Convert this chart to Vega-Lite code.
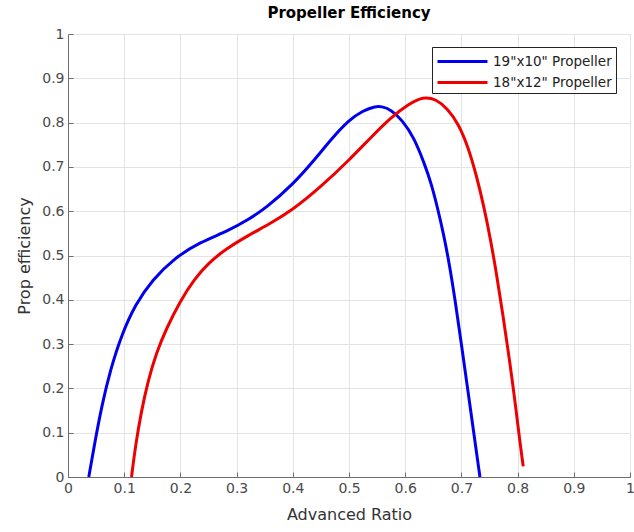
{
  "$schema": "https://vega.github.io/schema/vega-lite/v6.json",
  "width": 562,
  "height": 443,
  "autosize": {"type": "none"},
  "padding": {"left": 68, "top": 34, "right": 4, "bottom": 55},
  "background": "white",
  "title": {
    "text": "Propeller Efficiency",
    "font": "DejaVu Sans",
    "fontSize": 15,
    "fontWeight": "bold",
    "color": "#000000",
    "offset": 6
  },
  "config": {
    "view": {"stroke": "#a8a8a8", "strokeWidth": 1},
    "font": "DejaVu Sans"
  },
  "data": {
    "values": [
      {"series": "19\"x10\" Propeller", "J": 0.037, "eff": 0.0},
      {"series": "19\"x10\" Propeller", "J": 0.048, "eff": 0.08},
      {"series": "19\"x10\" Propeller", "J": 0.06, "eff": 0.16},
      {"series": "19\"x10\" Propeller", "J": 0.075, "eff": 0.24},
      {"series": "19\"x10\" Propeller", "J": 0.095, "eff": 0.32},
      {"series": "19\"x10\" Propeller", "J": 0.12, "eff": 0.39},
      {"series": "19\"x10\" Propeller", "J": 0.15, "eff": 0.445},
      {"series": "19\"x10\" Propeller", "J": 0.19, "eff": 0.495},
      {"series": "19\"x10\" Propeller", "J": 0.235, "eff": 0.53},
      {"series": "19\"x10\" Propeller", "J": 0.284, "eff": 0.555},
      {"series": "19\"x10\" Propeller", "J": 0.32, "eff": 0.58},
      {"series": "19\"x10\" Propeller", "J": 0.353, "eff": 0.608},
      {"series": "19\"x10\" Propeller", "J": 0.4, "eff": 0.66},
      {"series": "19\"x10\" Propeller", "J": 0.44, "eff": 0.718},
      {"series": "19\"x10\" Propeller", "J": 0.47, "eff": 0.765},
      {"series": "19\"x10\" Propeller", "J": 0.5, "eff": 0.806},
      {"series": "19\"x10\" Propeller", "J": 0.525, "eff": 0.827},
      {"series": "19\"x10\" Propeller", "J": 0.545, "eff": 0.836},
      {"series": "19\"x10\" Propeller", "J": 0.558, "eff": 0.837},
      {"series": "19\"x10\" Propeller", "J": 0.575, "eff": 0.829},
      {"series": "19\"x10\" Propeller", "J": 0.595, "eff": 0.805},
      {"series": "19\"x10\" Propeller", "J": 0.615, "eff": 0.768},
      {"series": "19\"x10\" Propeller", "J": 0.635, "eff": 0.705},
      {"series": "19\"x10\" Propeller", "J": 0.647, "eff": 0.66},
      {"series": "19\"x10\" Propeller", "J": 0.658, "eff": 0.605},
      {"series": "19\"x10\" Propeller", "J": 0.668, "eff": 0.55},
      {"series": "19\"x10\" Propeller", "J": 0.678, "eff": 0.485},
      {"series": "19\"x10\" Propeller", "J": 0.689, "eff": 0.398},
      {"series": "19\"x10\" Propeller", "J": 0.7, "eff": 0.3},
      {"series": "19\"x10\" Propeller", "J": 0.711, "eff": 0.2},
      {"series": "19\"x10\" Propeller", "J": 0.722, "eff": 0.1},
      {"series": "19\"x10\" Propeller", "J": 0.733, "eff": 0.0},
      {"series": "18\"x12\" Propeller", "J": 0.113, "eff": 0.0},
      {"series": "18\"x12\" Propeller", "J": 0.12, "eff": 0.07},
      {"series": "18\"x12\" Propeller", "J": 0.13, "eff": 0.145},
      {"series": "18\"x12\" Propeller", "J": 0.142, "eff": 0.215},
      {"series": "18\"x12\" Propeller", "J": 0.157, "eff": 0.28},
      {"series": "18\"x12\" Propeller", "J": 0.175, "eff": 0.335},
      {"series": "18\"x12\" Propeller", "J": 0.2, "eff": 0.398},
      {"series": "18\"x12\" Propeller", "J": 0.225, "eff": 0.447},
      {"series": "18\"x12\" Propeller", "J": 0.25, "eff": 0.483},
      {"series": "18\"x12\" Propeller", "J": 0.28, "eff": 0.514},
      {"series": "18\"x12\" Propeller", "J": 0.32, "eff": 0.545},
      {"series": "18\"x12\" Propeller", "J": 0.36, "eff": 0.572},
      {"series": "18\"x12\" Propeller", "J": 0.4, "eff": 0.603},
      {"series": "18\"x12\" Propeller", "J": 0.45, "eff": 0.655},
      {"series": "18\"x12\" Propeller", "J": 0.5, "eff": 0.715},
      {"series": "18\"x12\" Propeller", "J": 0.54, "eff": 0.768},
      {"series": "18\"x12\" Propeller", "J": 0.575, "eff": 0.812},
      {"series": "18\"x12\" Propeller", "J": 0.605, "eff": 0.841},
      {"series": "18\"x12\" Propeller", "J": 0.632, "eff": 0.859},
      {"series": "18\"x12\" Propeller", "J": 0.655, "eff": 0.853},
      {"series": "18\"x12\" Propeller", "J": 0.675, "eff": 0.832},
      {"series": "18\"x12\" Propeller", "J": 0.695, "eff": 0.797},
      {"series": "18\"x12\" Propeller", "J": 0.712, "eff": 0.745},
      {"series": "18\"x12\" Propeller", "J": 0.727, "eff": 0.68},
      {"series": "18\"x12\" Propeller", "J": 0.741, "eff": 0.605},
      {"series": "18\"x12\" Propeller", "J": 0.752, "eff": 0.535},
      {"series": "18\"x12\" Propeller", "J": 0.763, "eff": 0.455},
      {"series": "18\"x12\" Propeller", "J": 0.774, "eff": 0.365},
      {"series": "18\"x12\" Propeller", "J": 0.785, "eff": 0.27},
      {"series": "18\"x12\" Propeller", "J": 0.796, "eff": 0.165},
      {"series": "18\"x12\" Propeller", "J": 0.805, "eff": 0.07},
      {"series": "18\"x12\" Propeller", "J": 0.81, "eff": 0.024}
    ]
  },
  "mark": {"type": "line", "interpolate": "basis", "strokeWidth": 3},
  "encoding": {
    "x": {
      "field": "J",
      "type": "quantitative",
      "scale": {"domain": [0, 1], "nice": false, "zero": false},
      "axis": {
        "title": "Advanced Ratio",
        "values": [0, 0.1, 0.2, 0.3, 0.4, 0.5, 0.6, 0.7, 0.8, 0.9, 1],
        "format": "~g",
        "labelFont": "DejaVu Sans",
        "labelFontSize": 14,
        "labelColor": "#4a4a4a",
        "labelPadding": 9,
        "labelFlush": false,
        "titleFont": "DejaVu Sans",
        "titleFontSize": 16,
        "titleFontWeight": "normal",
        "titleColor": "#333333",
        "titlePadding": 11,
        "domainColor": "#6e6e6e",
        "tickColor": "#6e6e6e",
        "tickSize": -5,
        "gridColor": "#e3e3e3",
        "gridWidth": 1
      }
    },
    "y": {
      "field": "eff",
      "type": "quantitative",
      "scale": {"domain": [0, 1], "nice": false, "zero": false},
      "axis": {
        "title": "Prop efficiency",
        "values": [0, 0.1, 0.2, 0.3, 0.4, 0.5, 0.6, 0.7, 0.8, 0.9, 1],
        "format": "~g",
        "labelFont": "DejaVu Sans",
        "labelFontSize": 14,
        "labelColor": "#4a4a4a",
        "labelPadding": 9,
        "labelFlush": false,
        "titleFont": "DejaVu Sans",
        "titleFontSize": 16,
        "titleFontWeight": "normal",
        "titleColor": "#333333",
        "titlePadding": 9,
        "domainColor": "#6e6e6e",
        "tickColor": "#6e6e6e",
        "tickSize": -5,
        "gridColor": "#e3e3e3",
        "gridWidth": 1
      }
    },
    "color": {
      "field": "series",
      "type": "nominal",
      "scale": {
        "domain": ["19\"x10\" Propeller", "18\"x12\" Propeller"],
        "range": ["#0000ee", "#ee0000"]
      },
      "legend": {
        "title": null,
        "orient": "none",
        "legendX": 364,
        "legendY": 13,
        "symbolType": "M -1 0 L 4.556 0",
        "symbolSize": 324,
        "symbolStrokeWidth": 3,
        "symbolFillColor": "transparent",
        "labelFont": "DejaVu Sans",
        "labelFontSize": 13.5,
        "labelColor": "#222222",
        "labelOffset": 36,
        "rowPadding": 4,
        "padding": 4,
        "strokeColor": "#222222",
        "fillColor": "white",
        "cornerRadius": 0
      }
    }
  }
}
